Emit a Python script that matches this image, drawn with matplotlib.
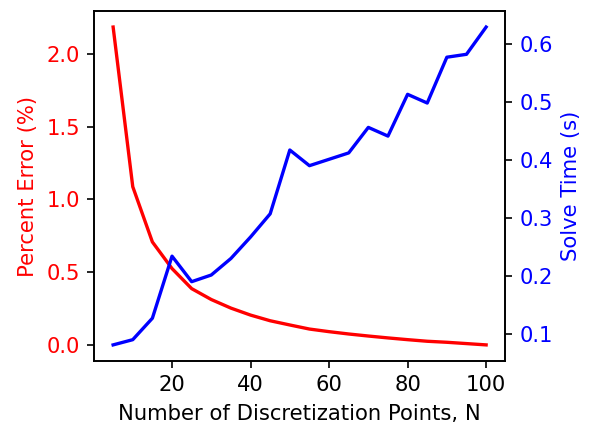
import matplotlib
matplotlib.use("Agg")
import matplotlib.pyplot as plt
import numpy as np

N = [5, 10, 15, 20, 25, 30, 35, 40, 45, 50, 55, 60, 65, 70, 75, 80, 85, 90, 95, 100]
percent_error = [2.186, 1.088, 0.708, 0.525, 0.387, 0.312, 0.253, 0.205, 0.166, 0.137,
                 0.109, 0.091, 0.075, 0.061, 0.048, 0.036, 0.025, 0.018, 0.009, 0.0]
solve_time = [0.081, 0.090, 0.127, 0.234, 0.190, 0.2015, 0.230, 0.267, 0.307, 0.417,
              0.390, 0.401, 0.412, 0.456, 0.441, 0.513, 0.498, 0.577, 0.582, 0.629]

plt.rcParams['font.size'] = 10.15

fig, ax1 = plt.subplots(figsize=(589 / 150, 429 / 150), dpi=150)
fig.subplots_adjust(left=0.1604, right=0.857, bottom=0.159, top=0.974)

ax1.plot(N, percent_error, color='r', lw=1.6)
ax1.set_xlabel('Number of Discretization Points, N')
ax1.set_ylabel('Percent Error (%)', color='r')
ax1.tick_params(axis='y', labelcolor='r')

ax2 = ax1.twinx()
ax2.plot(N, solve_time, color='b', lw=1.6)
ax2.set_ylabel('Solve Time (s)', color='b')
ax2.tick_params(axis='y', labelcolor='b')

fig.savefig('out.png', dpi=150)
